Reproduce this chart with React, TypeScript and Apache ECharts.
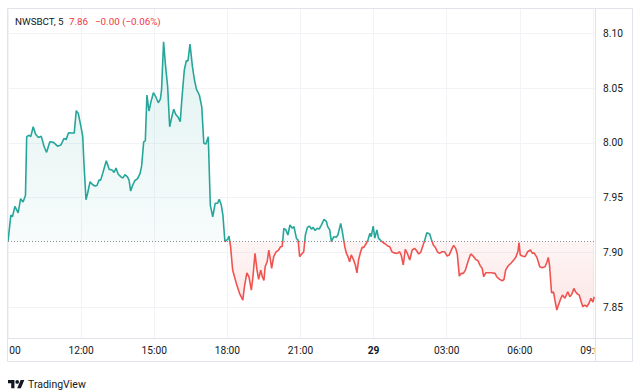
import React, { useEffect, useRef } from "react";
import * as echarts from "echarts";

const symbolName = "NWSBCT, 5";
const lastPrice = "7.86";
const changeText = "−0.00 (−0.06%)";
const brandName = "TradingView";
const dayTwoLabel = "29";
const sessionStart = 540; // 09:00 on day one, minutes of day
const xMax = 1985;
const yMin = 7.8217;
const yMax = 8.1233;
const baseline = 7.91;

// minutes after 09:00 on day one
const minutes = [
  0, 7, 11, 17, 25, 31, 37, 43, 46, 52,
  56, 62, 68, 75, 82, 89, 95, 103, 112, 122,
  130, 138, 143, 149, 156, 163, 168, 173, 179, 184,
  187, 192, 196, 202, 208, 214, 219, 224, 228, 233,
  242, 249, 257, 261, 266, 271, 278, 283, 288, 294,
  298, 302, 307, 312, 319, 325, 329, 334, 338, 342,
  347, 352, 358, 364, 370, 375, 378, 383, 388, 393,
  398, 403, 408, 413, 419, 424, 428, 434, 439, 443,
  448, 454, 459, 464, 471, 477, 482, 487, 493, 498,
  504, 510, 516, 520, 525, 529, 534, 541, 544, 548,
  553, 562, 570, 578, 582, 588, 593, 599, 603, 608,
  613, 617, 622, 626, 630, 633, 638, 642, 646, 649,
  654, 660, 666, 671, 675, 679, 684, 689, 694, 700,
  704, 710, 714, 718, 723, 728, 732, 737, 742, 747,
  751, 756, 761, 766, 771, 778, 784, 787, 792, 796,
  802, 808, 812, 819, 823, 829, 833, 837, 841, 845,
  850, 855, 859, 863, 868, 872, 876, 881, 886, 891,
  894, 899, 903, 908, 912, 917, 923, 929, 934, 940,
  945, 950, 958, 964, 968, 973, 978, 983, 989, 995,
  1001, 1006, 1011, 1016, 1022, 1026, 1031, 1038, 1042, 1047,
  1052, 1057, 1062, 1069, 1075, 1081, 1086, 1092, 1097, 1102,
  1106, 1111, 1116, 1121, 1126, 1133, 1139, 1145, 1151, 1157,
  1162, 1167, 1171, 1176, 1182, 1190, 1199, 1203, 1210, 1217,
  1221, 1225, 1231, 1238, 1245, 1250, 1255, 1258, 1261, 1266,
  1273, 1279, 1286, 1291, 1295, 1302, 1309, 1315, 1322, 1327,
  1330, 1333, 1338, 1343, 1346, 1351, 1355, 1361, 1365, 1371,
  1378, 1383, 1388, 1393, 1397, 1402, 1406, 1411, 1415, 1420,
  1425, 1430, 1435, 1440, 1443,
];

const prices = [
  7.910, 7.934, 7.9325, 7.942, 7.936, 7.949, 7.946, 7.952, 8.0057, 8.007,
  8.0057, 8.0148, 8.008, 8.005, 8.006, 7.9965, 7.9914, 8.001, 8.0005, 7.997,
  7.998, 8.0042, 8.003, 8.0093, 8.009, 8.009, 8.0295, 8.027, 8.016, 8.0057,
  7.981, 7.948, 7.954, 7.9645, 7.962, 7.9606, 7.961, 7.966, 7.966, 7.972,
  7.9837, 7.976, 7.975, 7.973, 7.977, 7.9716, 7.969, 7.968, 7.971, 7.969,
  7.966, 7.956, 7.9615, 7.9654, 7.9673, 7.972, 7.979, 8.001, 8.002, 8.0438,
  8.029, 8.0377, 8.0459, 8.042, 8.0367, 8.040, 8.0484, 8.0925, 8.0697, 8.0514,
  8.0148, 8.0234, 8.0307, 8.026, 8.0234, 8.0194, 8.040, 8.0666, 8.0751, 8.075,
  8.0904, 8.0697, 8.0575, 8.049, 8.0438, 8.033, 7.9997, 7.999, 8.0057, 7.9432,
  7.9325, 7.9448, 7.945, 7.9484, 7.9432, 7.934, 7.9097, 7.912, 7.9149, 7.905,
  7.8838, 7.8716, 7.8625, 7.8564, 7.8686, 7.8813, 7.8777, 7.8655, 7.8777, 7.8991,
  7.8838, 7.8753, 7.8838, 7.8777, 7.8744, 7.8868, 7.8914, 7.9021, 7.893, 7.8854,
  7.896, 7.9005, 7.9021, 7.9051, 7.9054, 7.9219, 7.9205, 7.9158, 7.925, 7.922,
  7.9235, 7.9128, 7.9113, 7.896, 7.8985, 7.9005, 7.9158, 7.9228, 7.924, 7.9212,
  7.9228, 7.920, 7.922, 7.9212, 7.9247, 7.9302, 7.928, 7.9235, 7.9205, 7.9097,
  7.9143, 7.9137, 7.9158, 7.9265, 7.919, 7.9051, 7.8991, 7.896, 7.8914, 7.8977,
  7.8936, 7.8884, 7.8813, 7.893, 7.9005, 7.9045, 7.9045, 7.9076, 7.9112, 7.9174,
  7.9143, 7.924, 7.913, 7.9205, 7.913, 7.911, 7.909, 7.9076, 7.906, 7.905,
  7.9005, 7.8995, 7.899, 7.9005, 7.8975, 7.8884, 7.9027, 7.899, 7.893, 7.9021,
  7.9036, 7.9014, 7.8985, 7.900, 7.9067, 7.9112, 7.9179, 7.9167, 7.912, 7.9067,
  7.9045, 7.9005, 7.899, 7.9005, 7.9005, 7.8966, 7.8975, 7.9027, 7.9064, 7.9036,
  7.8985, 7.8783, 7.8808, 7.8808, 7.8838, 7.8923, 7.8985, 7.8966, 7.8936, 7.8923,
  7.8881, 7.8855, 7.8777, 7.8813, 7.8813, 7.8813, 7.8808, 7.8777, 7.8753, 7.874,
  7.8753, 7.8838, 7.8875, 7.890, 7.893, 7.8954, 7.9005, 7.9088, 7.8975, 7.8966,
  7.896, 7.9005, 7.9021, 7.899, 7.8995, 7.8954, 7.8868, 7.886, 7.8868, 7.8914,
  7.8954, 7.8884, 7.863, 7.8637, 7.857, 7.8473, 7.8518, 7.858, 7.861, 7.858,
  7.864, 7.8594, 7.8618, 7.867, 7.864, 7.8618, 7.861, 7.8548, 7.8503, 7.8518,
  7.8503, 7.8533, 7.858, 7.8545, 7.8594,
];

const FONT = "Roboto, 'Noto Sans', sans-serif";
const TEXT = "#131722";
const GREEN = "#26a69a";
const RED = "#ef5350";
const FRAME = "#e0e3eb";
const GRIDC = "#f2f3f6";
const AXIS_FS = 10.2;
const TITLE_FS = 9.8;

const LOGO_D =
  "M14 22H7V11H0V4h14v18zM28 22h-8l7.5-18h8L28 22zM24 8a4 4 0 1 1-8 0a4 4 0 1 1 8 0z";

const pad = (n: number) => (n < 10 ? "0" + n : "" + n);

export default function App() {
  const ref = useRef<HTMLDivElement>(null);

  useEffect(() => {
    if (!ref.current) return;
    echarts.graphic.registerShape("tvlogo", echarts.graphic.extendPath(LOGO_D, {}));
    const chart = echarts.init(ref.current, null, { renderer: "svg" });

    const line = minutes.map((m, i) => [sessionStart + m, prices[i]]);
    const up = minutes.map((m, i) => [sessionStart + m, Math.max(prices[i], baseline)]);
    const down = minutes.map((m, i) => [sessionStart + m, Math.min(prices[i], baseline)]);

    const option: any = {
      animation: false,
      backgroundColor: "#ffffff",
      grid: { left: 8, right: 45, top: 8, bottom: 53, containLabel: false, outerBoundsMode: "none" },
      xAxis: {
        type: "value",
        min: sessionStart,
        max: xMax,
        interval: 180,
        axisLine: { show: false },
        axisTick: { show: false },
        splitLine: { show: true, lineStyle: { color: GRIDC, width: 1 } },
        axisLabel: {
          color: TEXT,
          fontSize: AXIS_FS,
          fontFamily: FONT,
          margin: 7,
          showMinLabel: true,
          showMaxLabel: false,
          hideOverlap: false,
          formatter: (v: number) => {
            const m = Math.round(v) % 1440;
            if (m === 0) return "{d|" + dayTwoLabel + "}";
            return pad(Math.floor(m / 60)) + ":" + pad(m % 60);
          },
          rich: {
            d: { fontWeight: "bold", fontSize: AXIS_FS, fontFamily: FONT, color: TEXT },
          },
        },
      },
      yAxis: {
        type: "value",
        position: "right",
        min: yMin,
        max: yMax,
        splitNumber: 5,
        axisLine: { show: false },
        axisTick: { show: false },
        splitLine: { show: true, lineStyle: { color: GRIDC, width: 1 } },
        axisLabel: {
          color: TEXT,
          fontSize: AXIS_FS,
          fontFamily: FONT,
          margin: 8,
          showMinLabel: false,
          showMaxLabel: false,
          formatter: (v: number) => v.toFixed(2),
        },
      },
      visualMap: {
        show: false,
        type: "piecewise",
        seriesIndex: 0,
        dimension: 1,
        pieces: [
          { gt: 0, lt: baseline, color: RED },
          { gte: baseline, lte: 100, color: GREEN },
        ],
        outOfRange: { color: GREEN },
      },
      series: [
        {
          type: "line",
          data: line,
          symbol: "none",
          z: 5,
          lineStyle: { width: 1.6 },
        },
        {
          type: "line",
          data: up,
          symbol: "none",
          silent: true,
          z: 2,
          lineStyle: { width: 0, opacity: 0 },
          areaStyle: {
            origin: baseline,
            color: new echarts.graphic.LinearGradient(0, 0, 0, 1, [
              { offset: 0, color: "rgba(38,166,154,0.2)" },
              { offset: 1, color: "rgba(38,166,154,0.05)" },
            ]),
          },
        },
        {
          type: "line",
          data: down,
          symbol: "none",
          silent: true,
          z: 2,
          lineStyle: { width: 0, opacity: 0 },
          areaStyle: {
            origin: baseline,
            color: new echarts.graphic.LinearGradient(0, 0, 0, 1, [
              { offset: 0, color: "rgba(239,83,80,0.08)" },
              { offset: 1, color: "rgba(239,83,80,0.2)" },
            ]),
          },
          markLine: {
            silent: true,
            symbol: ["none", "none"],
            label: { show: false },
            lineStyle: { type: [1, 2], color: "#8a8e99", width: 1 },
            data: [{ yAxis: baseline }],
          },
        },
      ],
      graphic: [
        { type: "rect", z: 100, shape: { x: 0, y: 339, width: 9, height: 22 }, style: { fill: "#ffffff" } },
        { type: "rect", z: 100, shape: { x: 596, y: 339, width: 36, height: 22 }, style: { fill: "#ffffff" } },
        { type: "rect", z: 101, shape: { x: 7.5, y: 8.5, width: 625, height: 353 }, style: { fill: "none", stroke: FRAME, lineWidth: 1 } },
        { type: "line", z: 101, shape: { x1: 595.5, y1: 8, x2: 595.5, y2: 362 }, style: { stroke: FRAME, lineWidth: 1 } },
        { type: "line", z: 101, shape: { x1: 7, y1: 338.5, x2: 632, y2: 338.5 }, style: { stroke: FRAME, lineWidth: 1 } },
        { type: "text", z: 102, x: 15, y: 21, style: { text: symbolName, fill: TEXT, fontSize: TITLE_FS, fontFamily: FONT, verticalAlign: "middle" } },
        { type: "text", z: 102, x: 69, y: 21, style: { text: lastPrice, fill: "#f23645", fontSize: TITLE_FS, fontFamily: FONT, verticalAlign: "middle" } },
        { type: "text", z: 102, x: 95, y: 21, style: { text: changeText, fill: "#f23645", fontSize: TITLE_FS, fontFamily: FONT, verticalAlign: "middle" } },
        { type: "tvlogo", z: 102, x: 8, y: 378.2, scaleX: 0.46, scaleY: 0.46, style: { fill: TEXT } },
        { type: "text", z: 102, x: 28, y: 384, style: { text: brandName, fill: TEXT, fontSize: 10.5, fontFamily: FONT, verticalAlign: "middle" } },
      ],
    };

    chart.setOption(option);
    return () => chart.dispose();
  }, []);

  return <div ref={ref} style={{ width: 640, height: 391, position: "absolute", left: 0, top: 0 }} />;
}
